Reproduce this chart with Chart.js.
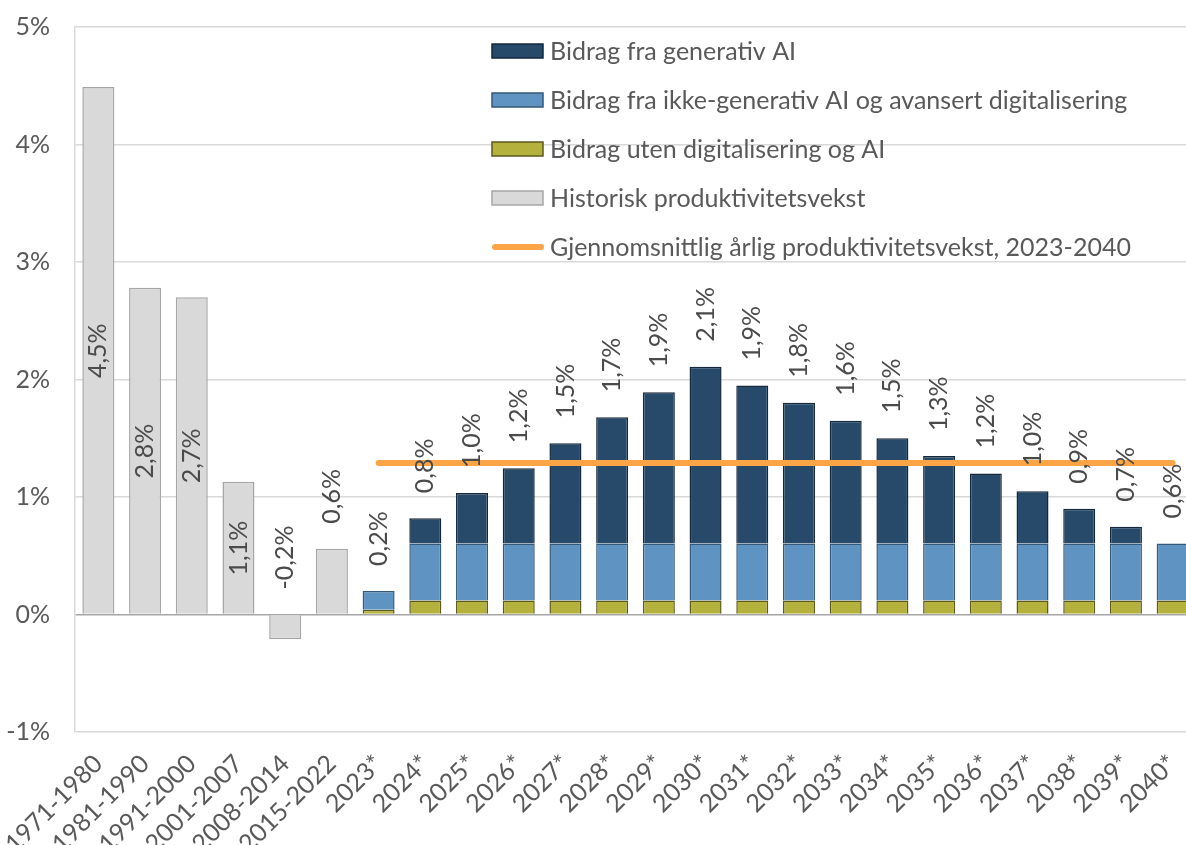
<!DOCTYPE html>
<html>
<head>
<meta charset="utf-8">
<script src="https://cdn.jsdelivr.net/npm/chart.js@4.4.1/dist/chart.umd.min.js"></script>
<style>
    html, body { margin: 0; padding: 0; background: #fff; overflow: hidden; }
    #wrap { width: 1200px; height: 845px; }
</style>
</head>
<body>
<div id="wrap"><canvas id="myChart" width="1200" height="845"></canvas></div>
<script>
const periods = ['1971-1980', '1981-1990', '1991-2000', '2001-2007', '2008-2014', '2015-2022',
    '2023*', '2024*', '2025*', '2026*', '2027*', '2028*', '2029*', '2030*', '2031*', '2032*',
    '2033*', '2034*', '2035*', '2036*', '2037*', '2038*', '2039*', '2040*'];

const historic = [4.49, 2.78, 2.70, 1.13, -0.21, 0.56,
    null, null, null, null, null, null, null, null, null, null, null, null, null, null, null, null, null, null];

const baseContrib = [null, null, null, null, null, null,
    0.04, 0.12, 0.12, 0.12, 0.12, 0.12, 0.12, 0.12, 0.12, 0.12, 0.12, 0.12, 0.12, 0.12, 0.12, 0.12, 0.12, 0.12];

const nonGenAI = [null, null, null, null, null, null,
    0.16, 0.485, 0.485, 0.485, 0.485, 0.485, 0.485, 0.485, 0.485, 0.485, 0.485, 0.485, 0.485, 0.485, 0.485, 0.485, 0.485, 0.485];

const genAI = [null, null, null, null, null, null,
    0, 0.215, 0.43, 0.64, 0.852, 1.073, 1.286, 1.504, 1.343, 1.198, 1.043, 0.895, 0.743, 0.595, 0.443, 0.295, 0.142, 0];

const avgGrowth = [null, null, null, null, null, null,
    1.29, 1.29, 1.29, 1.29, 1.29, 1.29, 1.29, 1.29, 1.29, 1.29, 1.29, 1.29, 1.29, 1.29, 1.29, 1.29, 1.29, 1.29];

const FONT = 'Lato';
const textColor = '#595959';

// rotated value labels above / inside the bars
const barLabels = {
    id: 'barLabels',
    afterDatasetsDraw(chart) {
        const ctx = chart.ctx;
        const x = chart.scales.x;
        const y = chart.scales.y;
        ctx.save();
        ctx.font = `25px ${FONT}`;
        ctx.fillStyle = '#4a4a4a';
        ctx.textBaseline = 'middle';
        periods.forEach((p, i) => {
            let value;
            if (historic[i] !== null) {
                value = historic[i];
            } else {
                value = baseContrib[i] + nonGenAI[i] + genAI[i];
            }
            const text = value.toFixed(1).replace('.', ',') + '%';
            const w = ctx.measureText(text).width;
            const px = x.getPixelForValue(i);
            const top = y.getPixelForValue(Math.max(value, 0));
            const bottom = y.getPixelForValue(Math.min(value, 0));
            ctx.save();
            if (historic[i] !== null && bottom - top > w + 20) {
                ctx.translate(px, (top + bottom) / 2);
                ctx.rotate(-Math.PI / 2);
                ctx.textAlign = 'center';
            } else {
                ctx.translate(px, top - 25);
                ctx.rotate(-Math.PI / 2);
                ctx.textAlign = 'left';
            }
            ctx.fillText(text, 0, 0);
            ctx.restore();
        });
        ctx.restore();
    }
};

// legend inside the plot, top right
const boxLegend = {
    id: 'boxLegend',
    afterDraw(chart) {
        const ctx = chart.ctx;
        const order = [2, 1, 0, 3, 4];
        ctx.save();
        ctx.font = `25px ${FONT}`;
        ctx.textBaseline = 'middle';
        ctx.textAlign = 'left';
        order.forEach((di, k) => {
            const ds = chart.data.datasets[di];
            const cy = 51 + k * 49;
            if (ds.type === 'line') {
                ctx.strokeStyle = ds.borderColor;
                ctx.lineWidth = 6;
                ctx.lineCap = 'round';
                ctx.beginPath();
                ctx.moveTo(495, cy);
                ctx.lineTo(541, cy);
                ctx.stroke();
            } else {
                ctx.fillStyle = ds.backgroundColor;
                ctx.fillRect(492, cy - 7, 51, 14);
                ctx.strokeStyle = ds.borderColor;
                ctx.lineWidth = 1.5;
                ctx.strokeRect(492, cy - 7, 51, 14);
            }
            ctx.fillStyle = textColor;
            ctx.fillText(ds.label, 550, cy + 1);
        });
        ctx.restore();
    }
};

const ctx = document.getElementById('myChart').getContext('2d');
const chart = new Chart(ctx, {
    type: 'bar',
    data: {
        labels: periods,
        datasets: [
            {
                label: 'Bidrag uten digitalisering og AI',
                data: baseContrib,
                backgroundColor: '#b4b23c',
                borderColor: '#5c5a1c',
                borderWidth: 1.5,
                stack: 'main',
                order: 2
            },
            {
                label: 'Bidrag fra ikke-generativ AI og avansert digitalisering',
                data: nonGenAI,
                backgroundColor: '#5f94c2',
                borderColor: '#35597a',
                borderWidth: 1.5,
                stack: 'main',
                order: 2
            },
            {
                label: 'Bidrag fra generativ AI',
                data: genAI,
                backgroundColor: '#274a6b',
                borderColor: '#15283b',
                borderWidth: 1.5,
                stack: 'main',
                order: 2
            },
            {
                label: 'Historisk produktivitetsvekst',
                data: historic,
                backgroundColor: '#d9d9d9',
                borderColor: '#a6a6a6',
                borderWidth: 1.5,
                stack: 'main',
                order: 2
            },
            {
                type: 'line',
                label: 'Gjennomsnittlig årlig produktivitetsvekst, 2023-2040',
                data: avgGrowth,
                borderColor: '#fca546',
                backgroundColor: '#fca546',
                borderWidth: 6,
                borderCapStyle: 'round',
                pointRadius: 0,
                fill: false,
                stack: 'avg',
                order: 1
            }
        ]
    },
    options: {
        responsive: false,
        animation: false,
        layout: {
            padding: { top: 27, right: 4, left: 0, bottom: 0 }
        },
        datasets: {
            bar: {
                categoryPercentage: 1,
                barPercentage: 0.685
            }
        },
        plugins: {
            legend: { display: false },
            tooltip: { enabled: false }
        },
        scales: {
            x: {
                stacked: true,
                grid: { display: false },
                border: { display: false },
                ticks: {
                    autoSkip: false,
                    maxRotation: 45,
                    minRotation: 45,
                    padding: 9,
                    color: textColor,
                    font: { family: FONT, size: 25 }
                },
                afterFit(scale) {
                    scale.height = 113;
                    scale.paddingLeft = 0;
                    scale.paddingRight = 0;
                }
            },
            y: {
                stacked: true,
                min: -1,
                max: 5,
                grid: {
                    color: c => c.tick.value === 0 ? '#a6a6a6' : '#d9d9d9',
                    lineWidth: 1.5,
                    drawTicks: false
                },
                border: { color: '#d9d9d9', width: 1.5 },
                ticks: {
                    stepSize: 1,
                    padding: 25,
                    color: textColor,
                    font: { family: FONT, size: 25 },
                    callback: v => v + '%'
                },
                afterFit(scale) {
                    scale.width = 75;
                    scale.paddingTop = 0;
                    scale.paddingBottom = 0;
                }
            }
        }
    },
    plugins: [barLabels, boxLegend]
});
</script>
</body>
</html>
